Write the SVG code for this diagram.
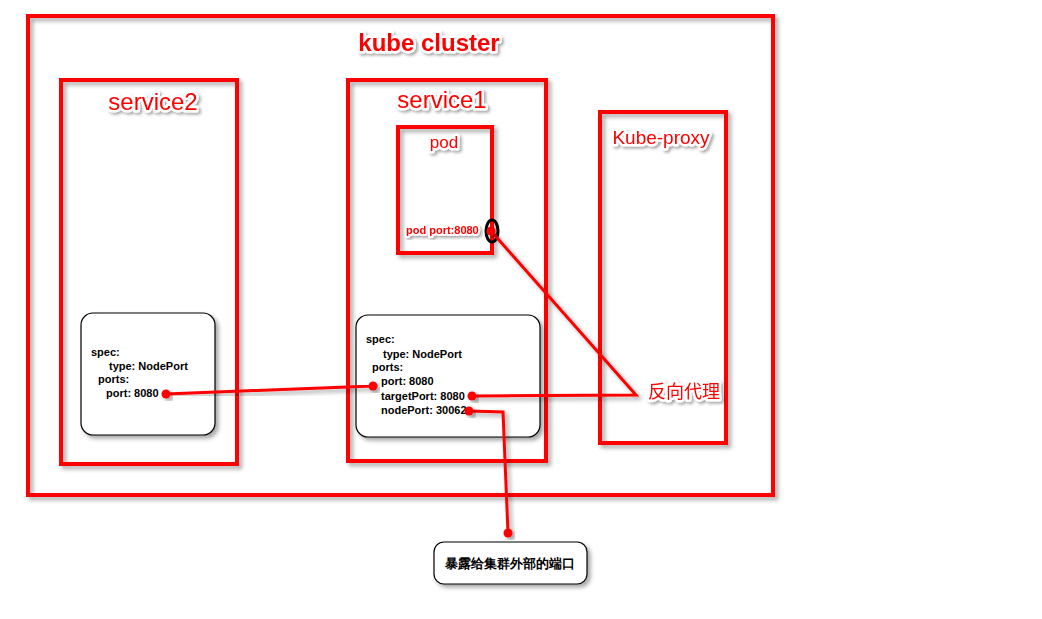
<svg xmlns="http://www.w3.org/2000/svg" width="1042" height="619" viewBox="0 0 1042 619">
<defs>
<filter id="sh" x="-10%" y="-10%" width="130%" height="130%"><feDropShadow dx="3" dy="3" stdDeviation="2" flood-color="#000" flood-opacity="0.35"/></filter>
<filter id="tsh" x="-10%" y="-20%" width="130%" height="150%"><feDropShadow dx="2" dy="2" stdDeviation="1.5" flood-color="#000" flood-opacity="0.35"/></filter>
</defs>
<style>
.frame{fill:none;stroke:#ff0000;stroke-width:4;filter:url(#sh)}
.card{fill:#fff;stroke:#000;stroke-width:1.2;filter:url(#sh)}
.lbl{fill:#ff0000;font-family:"Liberation Sans",Arial,sans-serif;paint-order:stroke;stroke:#fff;stroke-width:5;stroke-linejoin:round;filter:url(#tsh)}
.cjk{font-family:"Liberation Sans","Noto Sans CJK SC",sans-serif}
.code{fill:#000;font-family:"Liberation Sans",Arial,sans-serif;font-weight:bold;font-size:11px}
.wire{fill:none;stroke:#ff0000;stroke-width:3;filter:url(#sh)}
.dot{fill:#ff0000;filter:url(#sh)}
</style>
<rect width="1042" height="619" fill="#fff"/>
<g id="kube-cluster">
<rect class="frame" x="28" y="16" width="745" height="479"/>
<text class="lbl" x="429" y="51" text-anchor="middle" font-size="24" font-weight="bold">kube cluster</text>
</g>
<g id="service2">
<rect class="frame" x="61" y="80" width="176" height="384"/>
<text class="lbl" x="153" y="110" text-anchor="middle" font-size="24">service2</text>
</g>
<g id="service1">
<rect class="frame" x="348" y="80" width="198" height="381"/>
<text class="lbl" x="442" y="108" text-anchor="middle" font-size="24">service1</text>
</g>
<g id="pod">
<rect class="frame" x="398" y="127" width="94" height="126"/>
<text class="lbl" x="444" y="148" text-anchor="middle" font-size="17">pod</text>
<text class="lbl" x="406" y="234" font-size="11" font-weight="bold" style="stroke-width:4">pod port:8080</text>
<ellipse cx="492" cy="231" rx="6" ry="11" fill="none" stroke="#000" stroke-width="3"/>
</g>
<g id="kube-proxy">
<rect class="frame" x="600" y="112" width="126" height="331"/>
<text class="lbl" x="661" y="144" text-anchor="middle" font-size="19">Kube-proxy</text>
</g>
<g id="spec2">
<rect class="card" x="81" y="313" width="134" height="122" rx="12"/>
<text class="code" x="91" y="356">spec:</text>
<text class="code" x="109" y="370">type: NodePort</text>
<text class="code" x="98" y="383">ports:</text>
<text class="code" x="106" y="397">port: 8080</text>
</g>
<g id="spec1">
<rect class="card" x="356" y="315" width="184" height="122" rx="12"/>
<text class="code" x="366" y="343">spec:</text>
<text class="code" x="383" y="358">type: NodePort</text>
<text class="code" x="372" y="371">ports:</text>
<text class="code" x="381" y="385">port: 8080</text>
<text class="code" x="381" y="400">targetPort: 8080</text>
<text class="code" x="381" y="414">nodePort: 30062</text>
</g>
<g id="external-port">
<rect class="card" x="434" y="542" width="153" height="42" rx="10"/>
<text class="code cjk" x="510" y="568" text-anchor="middle" font-size="13" style="font-size:13px">暴露给集群外部的端口</text>
</g>
<g id="connectors">
<polyline class="wire" points="166,394 373,386"/>
<polyline class="wire" points="491,231 636,395 472,396"/>
<polyline class="wire" points="469,411 503,412 508,533"/>
<circle class="dot" cx="166" cy="394" r="4.5"/>
<circle class="dot" cx="373" cy="386" r="4.5"/>
<circle class="dot" cx="472" cy="396" r="4.5"/>
<circle class="dot" cx="469" cy="411" r="4.5"/>
<circle class="dot" cx="491" cy="231" r="4.5"/>
<circle class="dot" cx="508" cy="533" r="4.5"/>
</g>
<g id="proxy-label">
<text class="lbl cjk" x="648" y="398" font-size="18">反向代理</text>
</g>
</svg>
